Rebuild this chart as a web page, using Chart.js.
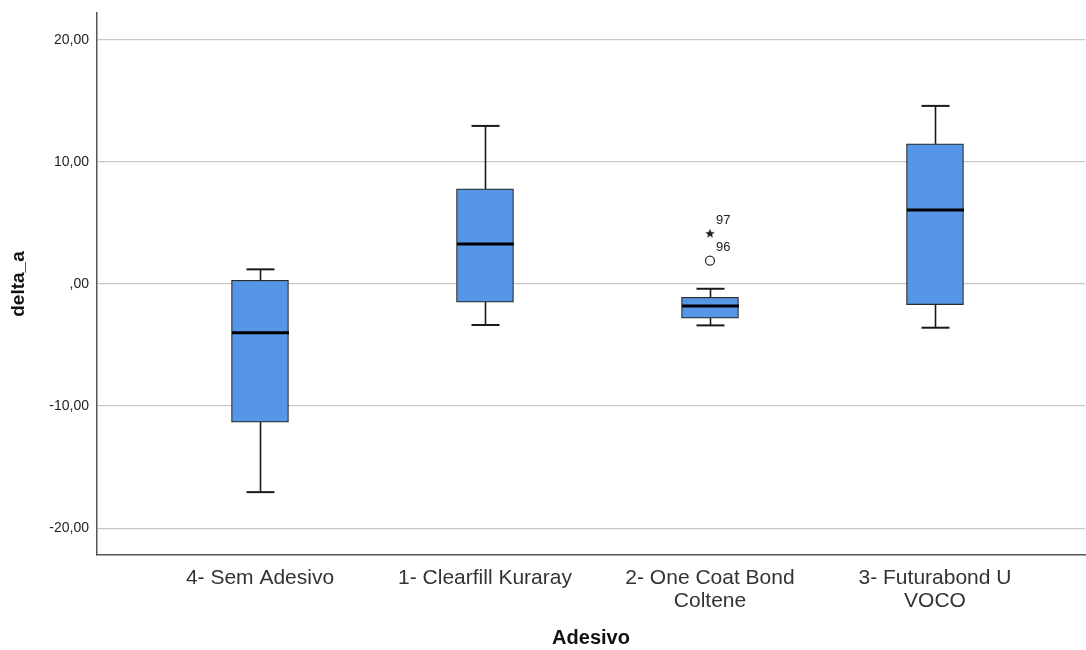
<!DOCTYPE html>
<html><head><meta charset="utf-8">
<script src="https://cdn.jsdelivr.net/npm/chart.js@4.4.1/dist/chart.umd.min.js"></script>
<style>html,body{margin:0;padding:0;background:#fff;} #c{display:block;}</style>
</head><body>
<canvas id="c" width="1086" height="650"></canvas>
<script>
const categories = ['4- Sem Adesivo', '1- Clearfill Kuraray', ['2- One Coat Bond', 'Coltene'], ['3- Futurabond U', 'VOCO']];
const whiskerLow = [-17.05, -3.36, -3.39, -3.58];
const q1 = [-11.31, -1.48, -2.79, -1.69];
const median = [-3.99, 3.28, -1.80, 6.07];
const q3 = [0.30, 7.79, -1.09, 11.48];
const whiskerHigh = [1.20, 12.95, -0.39, 14.59];
const outlierCat = [2, 2];
const outlierValue = [1.91, 4.16];
const outlierId = ['96', '97'];
const yTickValues = [-20, -10, 0, 10, 20];
const yTickLabels = ['-20,00', '-10,00', ',00', '10,00', '20,00'];

const FONT = 'Liberation Sans, Arial, Helvetica, sans-serif';

function makeStar(size, color) {
  const c = document.createElement('canvas');
  c.width = c.height = size;
  const g = c.getContext('2d');
  g.fillStyle = color;
  g.beginPath();
  const cx = size / 2, cy = size / 2 + 0.5, R = size / 2, r = R * 0.42;
  for (let i = 0; i < 10; i++) {
    const a = -Math.PI / 2 + i * Math.PI / 5;
    const rad = i % 2 ? r : R;
    g.lineTo(cx + rad * Math.cos(a), cy + rad * Math.sin(a));
  }
  g.closePath();
  g.fill();
  return c;
}
const starImg = makeStar(10, '#222');

const BOX_W = 57, CAP_W = 28;

const boxParts = {
  id: 'boxParts',
  afterDatasetsDraw(chart) {
    const { ctx, scales: { x, y } } = chart;
    ctx.save();
    ctx.strokeStyle = '#1a1a1a';
    ctx.lineCap = 'butt';
    const line = (x1, y1, x2, y2) => { ctx.beginPath(); ctx.moveTo(x1, y1); ctx.lineTo(x2, y2); ctx.stroke(); };
    categories.forEach((_, i) => {
      const cx = Math.round(x.getPixelForValue(i)) + 0.5;
      ctx.lineWidth = 1.6;
      line(cx, y.getPixelForValue(q3[i]), cx, y.getPixelForValue(whiskerHigh[i]));
      line(cx, y.getPixelForValue(q1[i]), cx, y.getPixelForValue(whiskerLow[i]));
      ctx.lineWidth = 2;
      line(cx - CAP_W / 2, y.getPixelForValue(whiskerHigh[i]), cx + CAP_W / 2, y.getPixelForValue(whiskerHigh[i]));
      line(cx - CAP_W / 2, y.getPixelForValue(whiskerLow[i]), cx + CAP_W / 2, y.getPixelForValue(whiskerLow[i]));
      ctx.lineWidth = 3;
      ctx.strokeStyle = '#000';
      line(cx - BOX_W / 2, y.getPixelForValue(median[i]), cx + BOX_W / 2, y.getPixelForValue(median[i]));
      ctx.strokeStyle = '#1a1a1a';
    });
    ctx.fillStyle = '#222';
    ctx.font = '13px ' + FONT;
    ctx.textAlign = 'left';
    ctx.textBaseline = 'middle';
    outlierId.forEach((id, k) => {
      const px = x.getPixelForValue(outlierCat[k]);
      const py = y.getPixelForValue(outlierValue[k]);
      ctx.fillText(id, px + 6, py - 13);
    });
    ctx.restore();
  }
};

new Chart(document.getElementById('c'), {
  type: 'bar',
  data: {
    datasets: [
      {
        type: 'bar',
        data: categories.map((_, i) => ({ x: i, y: [q1[i], q3[i]] })),
        backgroundColor: '#5596e6',
        borderColor: '#2a2a2a',
        borderWidth: 1.2,
        borderSkipped: false,
        barThickness: BOX_W
      },
      {
        type: 'scatter',
        data: outlierValue.map((v, k) => ({ x: outlierCat[k], y: v })),
        pointStyle: ['circle', starImg],
        pointRadius: 4.5,
        borderColor: '#333',
        backgroundColor: 'rgba(255,255,255,0)',
        borderWidth: 1.3
      }
    ]
  },
  options: {
    responsive: false,
    animation: false,
    events: [],
    layout: { autoPadding: false, padding: { top: 13, right: 1, left: 0, bottom: 0 } },
    plugins: { legend: { display: false }, tooltip: { enabled: false } },
    scales: {
      x: {
        type: 'linear',
        offset: false,
        min: -0.7244,
        max: 3.6667,
        afterBuildTicks: s => { s.ticks = categories.map((_, i) => ({ value: i })); },
        afterFit: s => { s.height = 95; s.paddingLeft = 0; s.paddingRight = 0; },
        grid: { display: false, drawTicks: false },
        border: { display: true, color: '#555', width: 1.5 },
        ticks: {
          autoSkip: false, maxRotation: 0, minRotation: 0, padding: 12, color: '#333',
          font: { family: FONT, size: 21, lineHeight: 1.1 },
          callback: v => categories[v]
        },
        title: { display: true, text: 'Adesivo', color: '#111', font: { family: FONT, size: 20, weight: 'bold' }, padding: { top: 0, bottom: 0 } }
      },
      y: {
        min: -22.2,
        max: 22.2,
        afterBuildTicks: s => { s.ticks = yTickValues.map(v => ({ value: v })); },
        afterFit: s => { s.width = 97; s.paddingTop = 0; s.paddingBottom = 0; },
        grid: { color: '#c8c8c8', lineWidth: 1.2, drawTicks: false },
        border: { display: true, color: '#555', width: 1.5 },
        ticks: {
          padding: 8, color: '#222',
          font: { family: FONT, size: 14 },
          callback: v => yTickLabels[yTickValues.indexOf(v)]
        },
        title: { display: true, text: 'delta_a', color: '#111', font: { family: FONT, size: 19, weight: 'bold' }, padding: { top: 7, bottom: 0 } }
      }
    }
  },
  plugins: [boxParts]
});
</script>
</body></html>
